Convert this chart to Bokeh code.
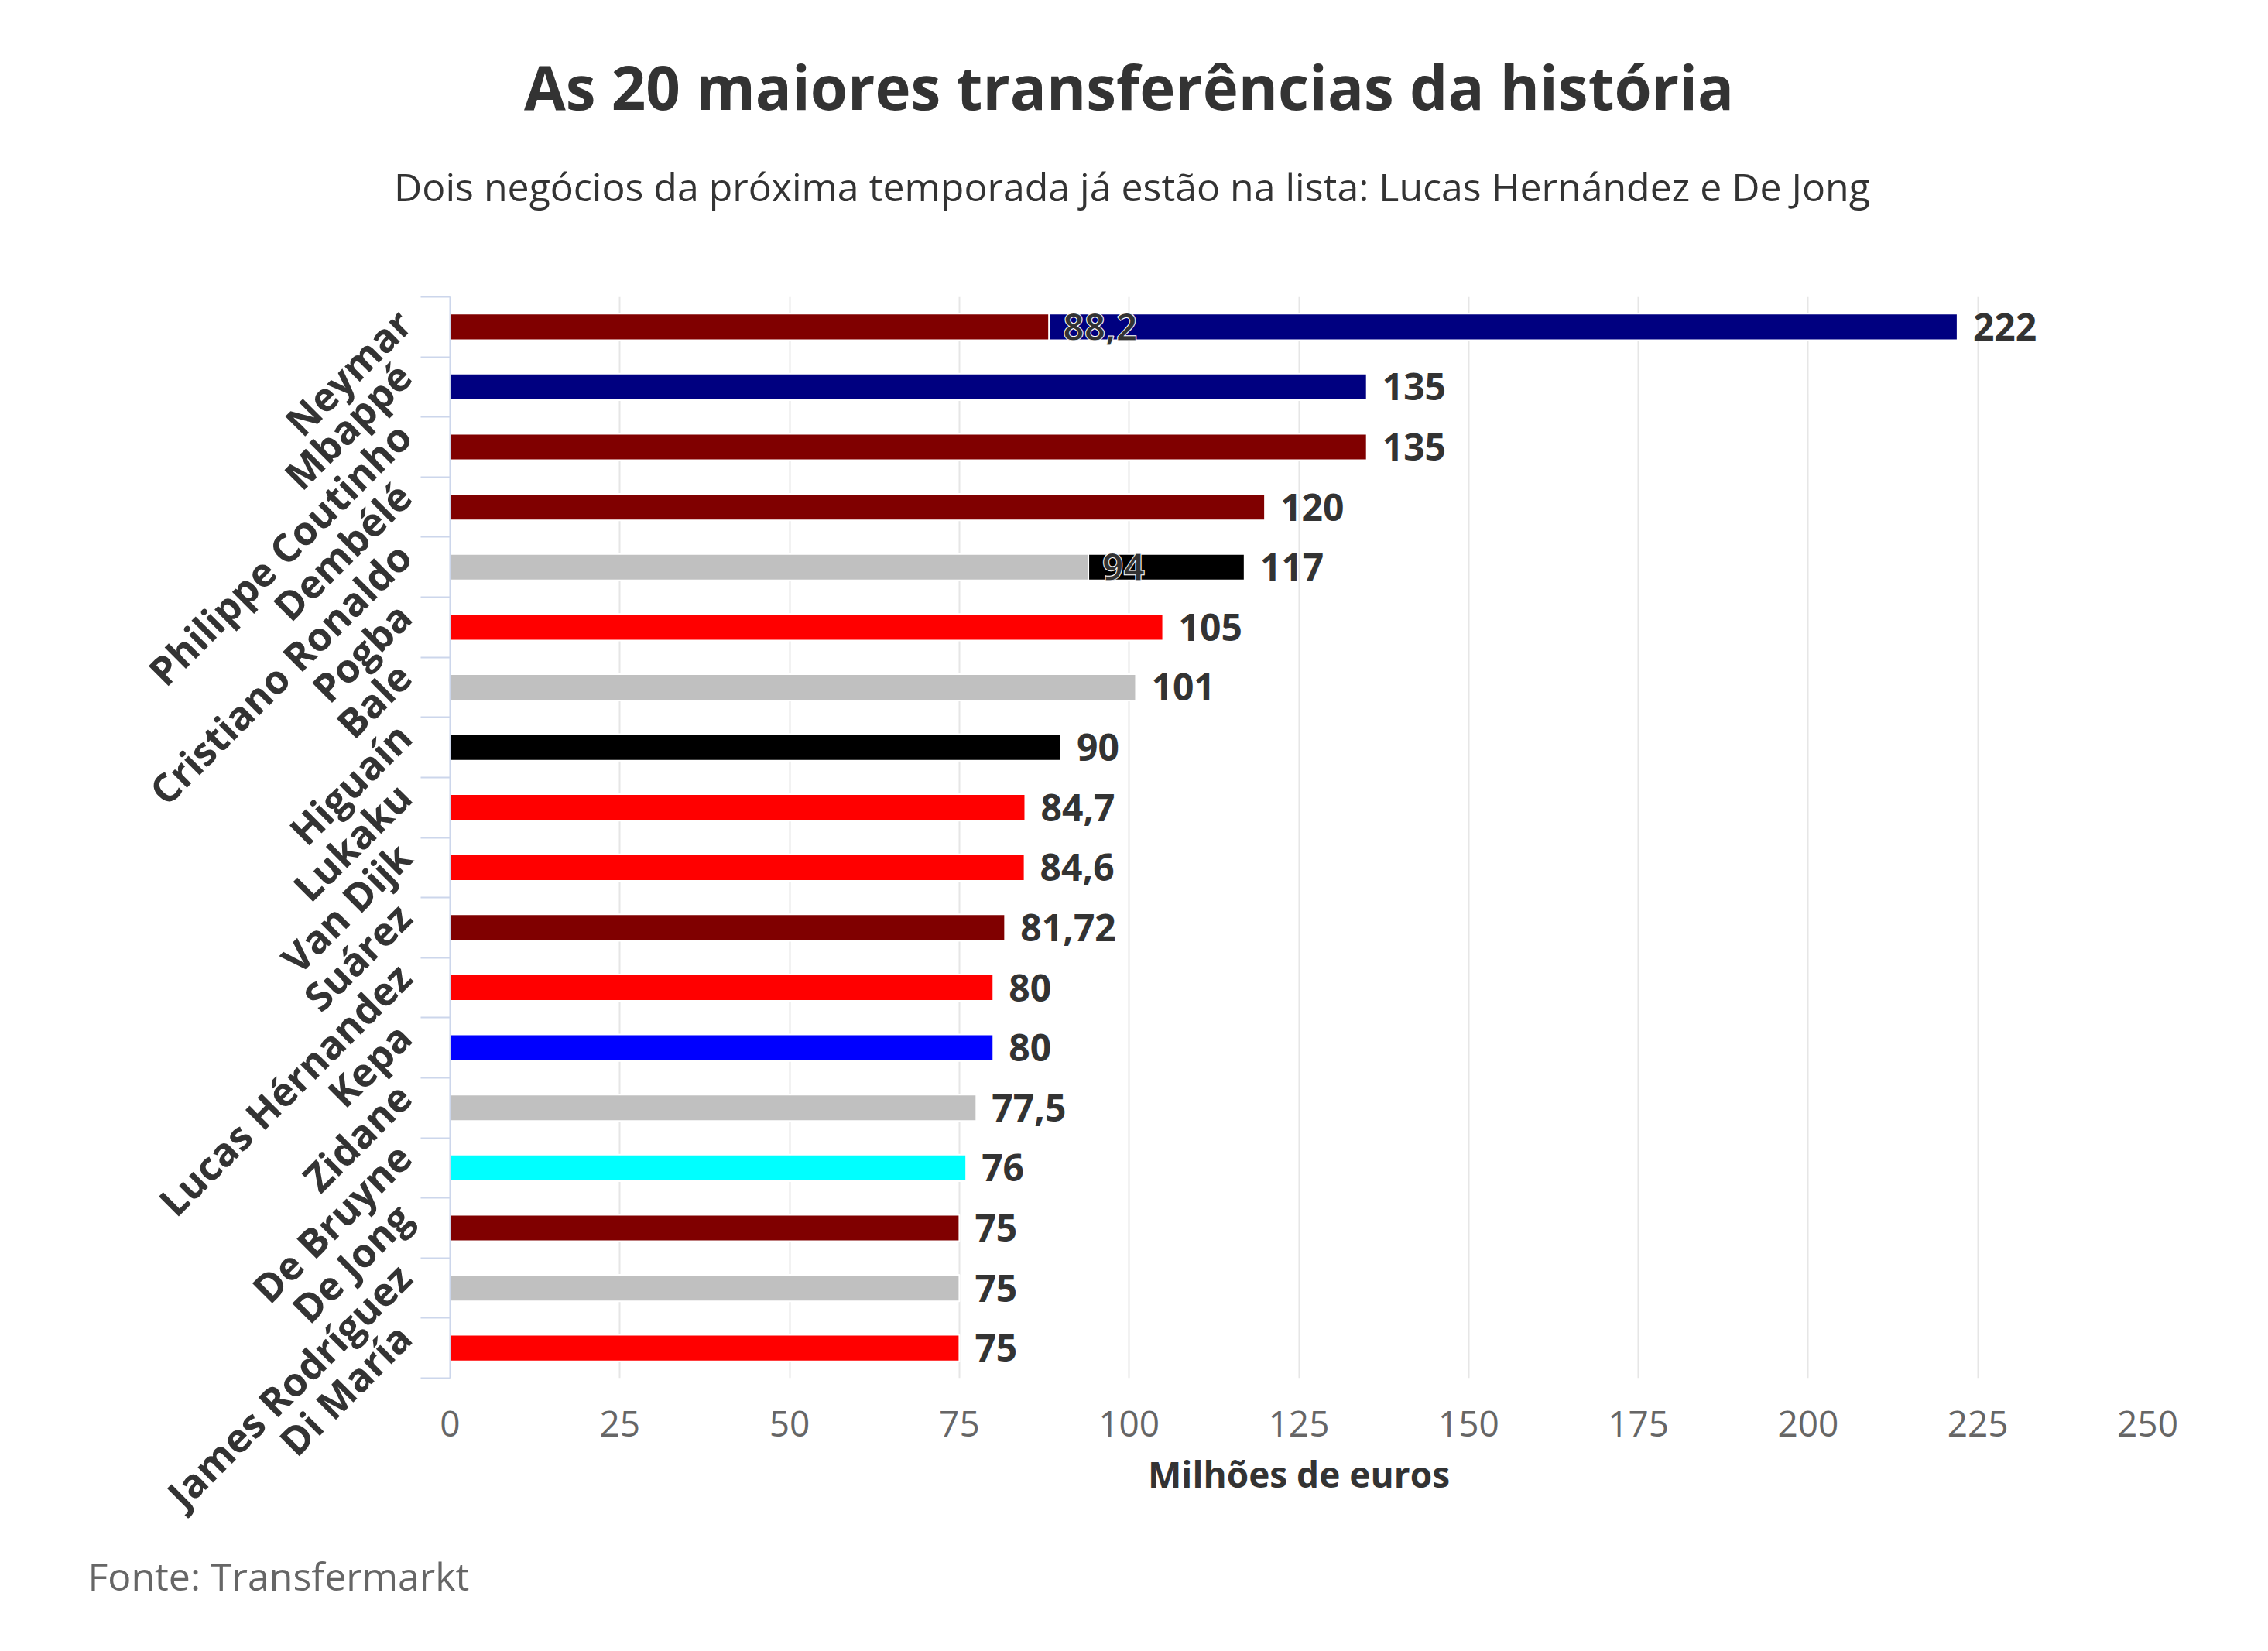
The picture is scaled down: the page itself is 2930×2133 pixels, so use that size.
import math
from bokeh.plotting import figure
from bokeh.layouts import column
from bokeh.models import FixedTicker, Range1d
from bokeh.core.properties import value
from bokeh.embed import file_html
from bokeh.resources import INLINE

# ---------------- data ----------------
title_text = "As 20 maiores transferências da história"
subtitle_text = "Dois negócios da próxima temporada já estão na lista: Lucas Hernández e De Jong"
source_text = "Fonte: Transfermarkt"
x_axis_title = "Milhões de euros"

players = ["Neymar", "Mbappé", "Philippe Coutinho", "Dembélé", "Cristiano Ronaldo",
           "Pogba", "Bale", "Higuaín", "Lukaku", "Van Dijk", "Suárez",
           "Lucas Hérnandez", "Kepa", "Zidane", "De Bruyne", "De Jong",
           "James Rodríguez", "Di María"]
fees = [222, 135, 135, 120, 117, 105, 101, 90, 84.7, 84.6, 81.72,
        80, 80, 77.5, 76, 75, 75, 75]
bar_colors = ["#000080", "#000080", "#800000", "#800000", "#000000",
              "#ff0000", "#c0c0c0", "#000000", "#ff0000", "#ff0000", "#800000",
              "#ff0000", "#0000ff", "#c0c0c0", "#00ffff", "#800000",
              "#c0c0c0", "#ff0000"]

# earlier transfers of the same player (drawn over the main bar)
earlier_players = ["Neymar", "Cristiano Ronaldo"]
earlier_fees = [88.2, 94]
earlier_colors = ["#800000", "#c0c0c0"]

x_ticks = [0, 25, 50, 75, 100, 125, 150, 175, 200, 225, 250]


def fmt(v):
    return f"{v:g}".replace(".", ",")


n = len(players)
ypos = [n - 1 - i for i in range(n)]
earlier_ypos = [ypos[players.index(name)] for name in earlier_players]

# ---------------- page geometry ----------------
W = 2912
HEADER_H = 383
MAIN_H = 1607
FOOTER_H = 125
TEXT_DARK = "#333333"
TEXT_GREY = "#666666"


def text_panel(height):
    f = figure(width=W, height=height, x_range=Range1d(0, W), y_range=Range1d(height, 0),
               output_backend="svg", toolbar_location=None, title=None,
               x_axis_location=None, y_axis_location=None,
               min_border_left=0, min_border_right=0, min_border_top=0, min_border_bottom=0)
    f.frame_align = False
    f.outline_line_color = None
    f.grid.visible = False
    f.background_fill_color = "white"
    f.border_fill_color = "white"
    return f


# ---------------- header ----------------
header = text_panel(HEADER_H)
header.text(x=[1458], y=[111], text=[title_text], text_align="center",
            text_baseline="alphabetic", text_font=value("Open Sans"),
            text_font_style="bold", text_font_size="78px", text_color=TEXT_DARK)
header.text(x=[1462], y=[240], text=[subtitle_text], text_align="center",
            text_baseline="alphabetic", text_font=value("Open Sans"),
            text_font_size="50px", text_color=TEXT_DARK)

# ---------------- main chart ----------------
p = figure(width=W, height=MAIN_H,
           x_range=Range1d(0, 250), y_range=Range1d(-0.5, n - 0.5),
           output_backend="svg", toolbar_location=None, title=None,
           min_border_left=581, min_border_right=W - 2774,
           min_border_top=0, min_border_bottom=MAIN_H - (1780 - HEADER_H))
p.frame_align = False
p.outline_line_color = None
p.background_fill_color = "white"
p.border_fill_color = "white"

BAR_H = 0.44
p.hbar(y=ypos, left=0, right=fees, height=BAR_H,
       fill_color=bar_colors, line_color="white", line_width=2)
p.hbar(y=earlier_ypos, left=0, right=earlier_fees, height=BAR_H,
       fill_color=earlier_colors, line_color="white", line_width=2)

p.text(x=fees, y=ypos, text=[fmt(v) for v in fees],
       x_offset=20, text_align="left", text_baseline="middle",
       text_font=value("Open Sans"), text_font_style="bold",
       text_font_size="48px", text_color=TEXT_DARK)
p.text(x=earlier_fees, y=earlier_ypos, text=[fmt(v) for v in earlier_fees],
       x_offset=18, text_align="left", text_baseline="middle",
       text_font=value("Open Sans"), text_font_style="bold",
       text_font_size="48px", text_color=TEXT_DARK,
       text_outline_color="white")

# x axis
xt = FixedTicker(ticks=x_ticks)
xa = p.xaxis[0]
xa.ticker = xt
p.xgrid.ticker = xt
xa.axis_line_color = None
xa.major_tick_line_color = None
xa.minor_tick_line_color = None
xa.major_tick_out = 0
xa.major_tick_in = 0
xa.major_label_text_font = "Open Sans"
xa.major_label_text_font_size = "46px"
xa.major_label_text_color = TEXT_GREY
xa.major_label_standoff = 42
xa.axis_label = x_axis_title
xa.axis_label_text_font = "Open Sans"
xa.axis_label_text_font_size = "46px"
xa.axis_label_text_font_style = "bold"
xa.axis_label_text_color = TEXT_DARK
xa.axis_label_standoff = 14

p.xgrid.grid_line_color = "#e6e6e6"
p.xgrid.grid_line_width = 2
p.ygrid.grid_line_color = None

# y axis: names slightly above the bar centre, boundary ticks between rows
LABEL_LIFT = 0.3
label_pos = [y + LABEL_LIFT for y in ypos]
ya = p.yaxis[0]
ya.ticker = FixedTicker(ticks=label_pos, minor_ticks=[k - 0.5 for k in range(n + 1)])
ya.major_label_overrides = {y: name for y, name in zip(label_pos, players)}
ya.major_tick_line_color = None
ya.major_tick_out = 0
ya.major_tick_in = 0
ya.minor_tick_in = 0
ya.minor_tick_out = 38
ya.minor_tick_line_color = "#ccd6eb"
ya.minor_tick_line_width = 2
ya.axis_line_color = "#ccd6eb"
ya.axis_line_width = 2
ya.major_label_orientation = math.pi / 4
ya.major_label_standoff = 22
ya.major_label_text_font = "Open Sans"
ya.major_label_text_font_style = "bold"
ya.major_label_text_font_size = "51px"
ya.major_label_text_color = TEXT_DARK

# ---------------- footer ----------------
footer = text_panel(FOOTER_H)
footer.text(x=[113], y=[45], text=[source_text], text_align="left",
            text_baseline="alphabetic", text_font=value("Open Sans"),
            text_font_size="50px", text_color=TEXT_GREY)

page = column(header, p, footer, spacing=0)
open("out.html", "w").write(file_html(page, INLINE))
